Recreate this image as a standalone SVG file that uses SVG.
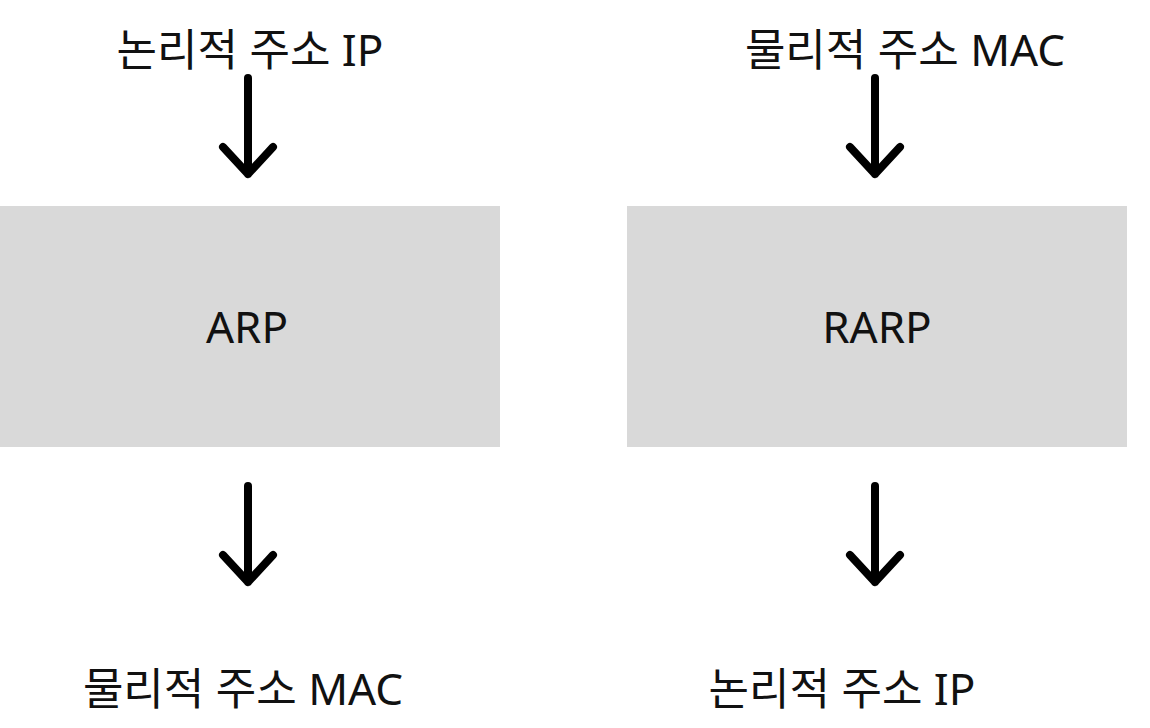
<svg xmlns="http://www.w3.org/2000/svg" width="1150" height="728" viewBox="0 0 1150 728">
<style>
.lbl{font-family:"Noto Sans","Noto Sans CJK KR",sans-serif;font-size:44px;fill:#111;text-anchor:middle}
.box{fill:#d9d9d9}
.arr{fill:none;stroke:#000;stroke-width:8;stroke-linecap:round;stroke-linejoin:round}
</style>
<rect width="1150" height="728" fill="#fff"/>
<g id="top-left-label"><text class="lbl" x="250" y="66">논리적 주소 IP</text></g>
<g id="top-right-label"><text class="lbl" x="905" y="66">물리적 주소 MAC</text></g>
<g id="arp"><rect class="box" x="0" y="206" width="500" height="241"/><text class="lbl" x="247" y="343">ARP</text></g>
<g id="rarp"><rect class="box" x="627" y="206" width="500" height="241"/><text class="lbl" x="877" y="343">RARP</text></g>
<g id="bottom-left-label"><text class="lbl" x="243" y="705">물리적 주소 MAC</text></g>
<g id="bottom-right-label"><text class="lbl" x="842" y="705">논리적 주소 IP</text></g>
<g id="connectors">
<path class="arr" d="M248 78V174M223 147L248 174L273 147"/>
<path class="arr" d="M875 78V174M850 147L875 174L900 147"/>
<path class="arr" d="M248 486V582M223 555L248 582L273 555"/>
<path class="arr" d="M875 486V582M850 555L875 582L900 555"/>
</g>
</svg>
